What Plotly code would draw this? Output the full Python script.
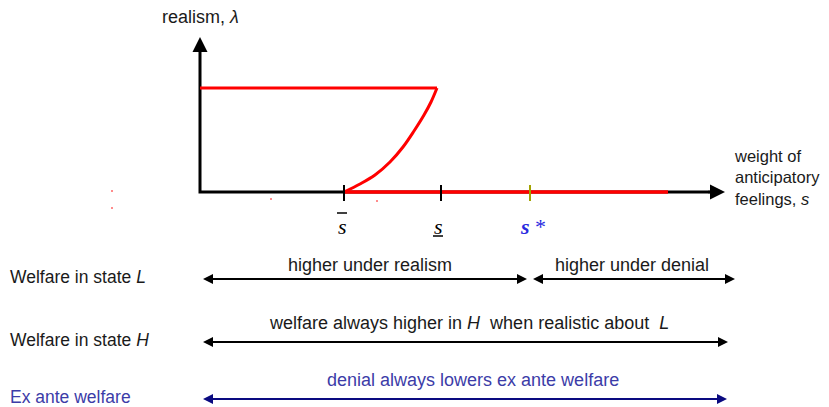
import plotly.graph_objects as go

# Diagram coordinates: s to the right, lambda upward, origin at the axes corner
s_axis_end = 525          # tip of s-axis arrow
lambda_axis_end = 155     # tip of lambda-axis arrow
lambda_high = 104         # realism level of the upper red branch
s_bar = 144
s_under = 241
s_star = 330
s_red_end = 468           # end of red line along s-axis

curve_s = [144, 160, 175, 190, 203, 214, 224, 231, 237]
curve_lambda = [0, 8, 17, 30, 45, 61, 77, 90, 104]

tick_s = [s_bar, s_under, s_star]
tick_colors = ["black", "black", "#a3a300"]

row_labels = ["Welfare in state <i>L</i>", "Welfare in state <i>H</i>", "Ex ante welfare"]
row_y = [-87, -150, -207]
row_text_y = [-73, -131, -188]
row_colors = ["#1a1a1a", "#1a1a1a", "#3c3ca8"]
row_arrow_colors = ["black", "black", "#0a0a80"]
# arrow segments per row: (start s, end s)
row_segments = [[(0, 327), (330, 535)], [(0, 528)], [(0, 527)]]
row_texts = [[("higher under realism", 170), ("higher under denial", 432)],
             [("welfare always higher in <i>H</i>  when realistic about  <i>L</i>", 269)],
             [("denial always lowers ex ante welfare", 273)]]

stray_s = [-88, -88, 71, 177]
stray_l = [1, -16, -7, -9]

fig = go.Figure()

# black axes (shafts)
fig.add_trace(go.Scatter(x=[0, 0, s_axis_end - 12], y=[lambda_axis_end - 12, 0, 0], mode="lines",
                         line=dict(color="black", width=3), hoverinfo="skip"))

# red upper branch
fig.add_trace(go.Scatter(x=[0, curve_s[-1]], y=[lambda_high, lambda_high], mode="lines",
                         line=dict(color="#ff0000", width=3), hoverinfo="skip"))
# red curve
fig.add_trace(go.Scatter(x=curve_s, y=curve_lambda, mode="lines",
                         line=dict(color="#ff0000", width=3, shape="spline"), hoverinfo="skip"))
# red along s-axis
fig.add_trace(go.Scatter(x=[s_bar, s_red_end], y=[0, 0], mode="lines",
                         line=dict(color="#ff0000", width=3.5), hoverinfo="skip"))
# stray dots
fig.add_trace(go.Scatter(x=stray_s, y=stray_l, mode="markers",
                         marker=dict(color="#ff6666", size=2), hoverinfo="skip"))

# ticks
for s, c in zip(tick_s, tick_colors):
    fig.add_trace(go.Scatter(x=[s, s], y=[7, -9], mode="lines", line=dict(color=c, width=2),
                             hoverinfo="skip"))

annotations = []
# axis arrow heads
annotations.append(dict(x=0, y=lambda_axis_end, ax=0, ay=lambda_axis_end - 20, axref="x", ayref="y",
                        showarrow=True, arrowhead=2, arrowsize=1.2, arrowwidth=2.5, arrowcolor="black",
                        standoff=0, text=" "))
annotations.append(dict(x=s_axis_end, y=0, ax=s_axis_end - 20, ay=0, axref="x", ayref="y",
                        showarrow=True, arrowhead=2, arrowsize=1.2, arrowwidth=2.5, arrowcolor="black",
                        standoff=0, text=" "))

# tick labels
serif = "Liberation Serif, Times New Roman, serif"
annotations.append(dict(x=s_bar - 2, y=-34, text="<i>s</i>", showarrow=False,
                        font=dict(family=serif, size=22, color="black")))
fig.add_trace(go.Scatter(x=[s_bar - 7, s_bar + 3], y=[-21, -21], mode="lines",
                         line=dict(color="black", width=1.5), hoverinfo="skip"))
annotations.append(dict(x=s_under - 3, y=-34, text="<i>s</i>", showarrow=False,
                        font=dict(family=serif, size=22, color="black")))
fig.add_trace(go.Scatter(x=[s_under - 8, s_under + 2], y=[-44, -44], mode="lines",
                         line=dict(color="black", width=1.5), hoverinfo="skip"))
annotations.append(dict(x=s_star + 3, y=-34, text="<b><i>s</i></b> *", showarrow=False,
                        font=dict(family=serif, size=22, color="#2a2ae0")))

sans = "Liberation Sans, Arial, sans-serif"
annotations.append(dict(x=0, y=175, text="realism, <i>λ</i>", showarrow=False,
                        font=dict(family=sans, size=18, color="#1a1a1a")))
annotations.append(dict(x=532, y=15, text="weight of<br>anticipatory<br>feelings, <i>s</i>",
                        showarrow=False, xanchor="left", align="left",
                        font=dict(family=sans, size=16.5, color="#1a1a1a")))

for lab, y, tcol, acol, segs, texts, ty in zip(row_labels, row_y, row_colors, row_arrow_colors,
                                                row_segments, row_texts, row_text_y):
    annotations.append(dict(x=-192, y=y + 2, text=lab, showarrow=False, xanchor="left",
                            font=dict(family=sans, size=17.5, color=tcol)))
    for a, b in segs:
        annotations.append(dict(x=b, y=y, ax=a, ay=y, axref="x", ayref="y",
                                showarrow=True, arrowhead=2, arrowside="end+start", arrowsize=1,
                                arrowwidth=2, arrowcolor=acol, standoff=0, startstandoff=0, text=" "))
    for t, cx in texts:
        annotations.append(dict(x=cx, y=ty, text=t, showarrow=False,
                                font=dict(family=sans, size=18, color=tcol)))

for a in annotations:
    a.setdefault("xref", "x")
    a.setdefault("yref", "y")

# page body has an 8px margin, so the view is offset by 8px to compensate
fig.update_layout(
    width=829, height=407,
    margin=dict(l=0, r=0, t=0, b=0),
    paper_bgcolor="white", plot_bgcolor="white",
    showlegend=False,
    xaxis=dict(range=[-192, 637], visible=False, fixedrange=True),
    yaxis=dict(range=[-223, 184], visible=False, fixedrange=True),
    annotations=annotations,
)

fig.write_html("out.html")
